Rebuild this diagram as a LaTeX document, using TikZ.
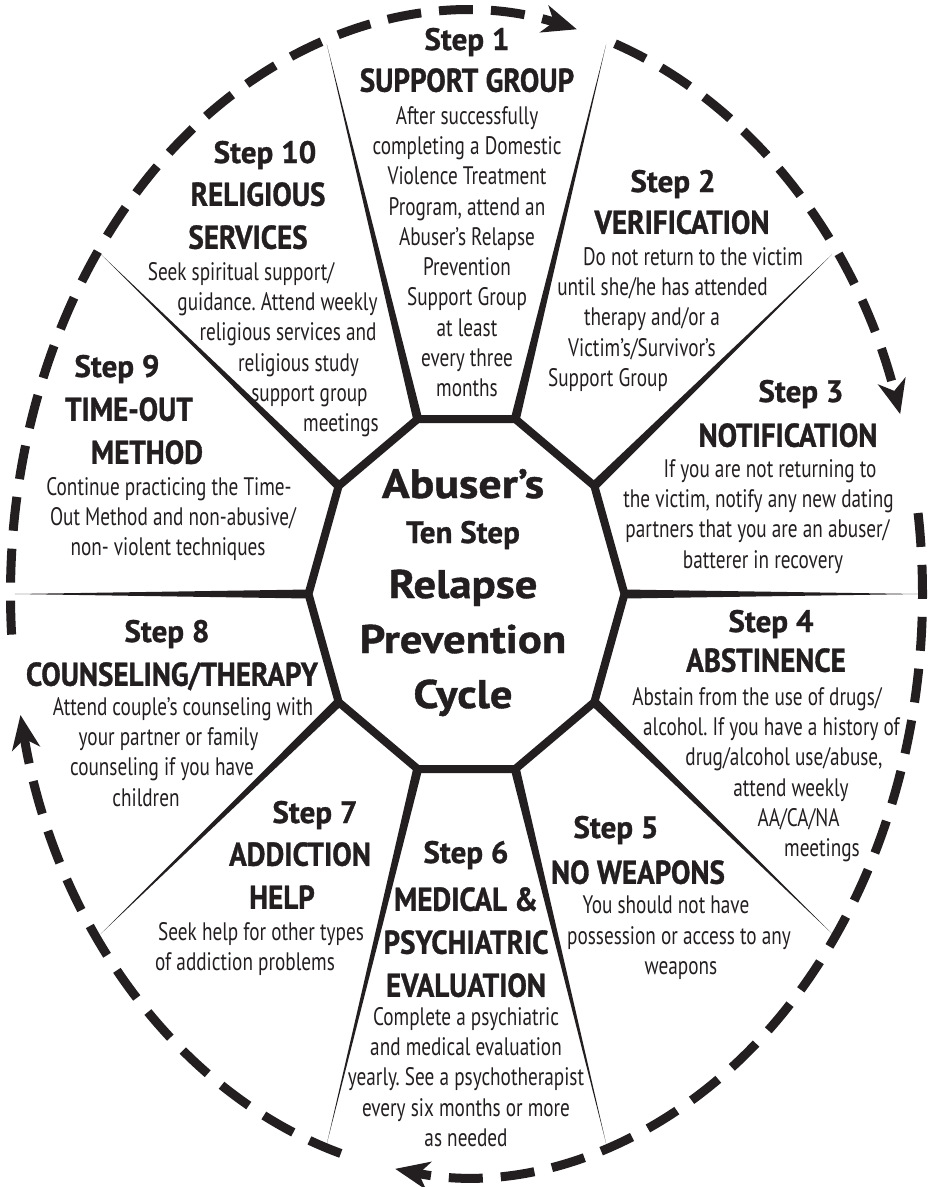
\documentclass[tikz,border=0pt]{standalone}
\usepackage{fontspec}
\setmainfont{PT Sans}
\newfontfamily\narrowfont[FakeStretch=0.76]{PT Sans}
\newfontfamily\stepfont[FakeBold=1]{PT Sans Bold}
\newfontfamily\condfont[FakeStretch=0.88, FakeBold=1]{PT Sans Bold}
\newfontfamily\widefont[FakeStretch=1.12, FakeBold=1]{PT Sans Bold}
\usetikzlibrary{arrows.meta,calc}
\definecolor{ink}{HTML}{231F20}
\newcommand\nudge[2]{\hspace*{#1pt}#2\hspace*{-#1pt}}
\frenchspacing

\begin{document}
\begin{tikzpicture}[
        x=1pt, y=-1pt,                % 像素坐标, y 向下
        >={Stealth[length=34pt,width=28pt,inset=10pt]},
        every node/.style={inner sep=0pt, text=ink},
        steplabel/.style={anchor=base, font=\stepfont\fontsize{31}{36}\selectfont},
        titlelabel/.style={anchor=north, align=center, font=\condfont\fontsize{33}{43}\selectfont},
        bodytext/.style={anchor=north, align=center, font=\narrowfont\fontsize{25.3}{30.3}\selectfont},
        hubbig/.style={anchor=base, font=\widefont\fontsize{40}{44}\selectfont},
        hubsmall/.style={anchor=base, font=\stepfont\fontsize{31}{34}\selectfont},
        hubline/.style={draw=ink, line width=8pt, line join=miter},
        spoke/.style={fill=ink},
        cyclearc/.style={->, draw=ink, line width=9pt, dash pattern=on 34pt off 18pt}
    ]
    \fill[white] (0,0) rectangle (932,1187);
    \useasboundingbox (0,0) rectangle (932,1187);

    % 十边形顶点和辐条端点
    \coordinate (C) at (466.5,594);
    \foreach \i in {0,...,9}{
        \coordinate (v\i) at ($(C)+({36*\i}:158 and 184)$);
        \coordinate (o\i) at ($(C)+({36*\i}:452 and 578)$);
    }

    % 辐条
    \foreach \i in {0,...,9}
        \fill[spoke] ($(v\i)!4.5pt!90:(o\i)$) -- (o\i) -- ($(v\i)!4.5pt!-90:(o\i)$) -- cycle;

    % 中心十边形
    \draw[hubline] (v0) -- (v1) -- (v2) -- (v3) -- (v4) -- (v5) -- (v6) -- (v7) -- (v8) -- (v9) -- cycle;

    % 虚线循环箭头
    \draw[cyclearc] ($(C)+(-71:456 and 582)$) arc[start angle=-71, end angle=-18, x radius=456, y radius=582];
    \draw[cyclearc] ($(C)+(-8:456 and 582)$) arc[start angle=-8, end angle=99, x radius=456, y radius=582];
    \draw[cyclearc] ($(C)+(106:456 and 582)$) arc[start angle=106, end angle=168, x radius=456, y radius=582];
    \draw[cyclearc] ($(C)+(-184:456 and 582)$) arc[start angle=-184, end angle=-76, x radius=456, y radius=582];

    % 中心文字
    \node[hubbig] (h1) at (463,498) {\fontsize{41}{44}\selectfont Abuser’s};
    \node[hubsmall] (h2) at (463,543) {Ten Step};
    \node[hubbig] (h3) at (463,598) {Relapse};
    \node[hubbig] (h4) at (463,653) {Prevention};
    \node[hubbig] (h5) at (463,708) {Cycle};

    % Step 1
    \node[steplabel] (s1) at (467,50) {Step 1};
    \node[titlelabel] (t1) at (467,68) {SUPPORT GROUP};
    \node[bodytext] (b1) at (467,106) {After successfully\\completing a Domestic\\Violence Treatment\\Program, attend an\\Abuser’s Relapse\\Prevention\\Support Group\\at least\\every three\\months};

    % Step 2
    \node[steplabel] (s2) at (673,192) {Step 2};
    \node[titlelabel] (t2) at (682,210) {VERIFICATION};
    \node[bodytext] (b2) at (652,247) {\nudge{41}{Do not return to the victim}\\\nudge{21}{until she/he has attended}\\therapy and/or a\\\nudge{-20}{Victim’s/Survivor’s}\\\nudge{-44}{Support Group}};

    % Step 3
    \node[steplabel] (s3) at (801,402) {Step 3};
    \node[titlelabel] (t3) at (788,423) {NOTIFICATION};
    \node[bodytext] (b3) at (760,459) {\nudge{10}{If you are not returning to}\\\nudge{-3}{the victim, notify any new dating}\\\nudge{-5}{partners that you are an abuser/}\\\nudge{3}{batterer in recovery}};

    % Step 4
    \node[steplabel] (s4) at (771,632) {Step 4};
    \node[titlelabel] (t4) at (766,648) {ABSTINENCE};
    \node[bodytext] (b4) at (790,687) {\nudge{-33}{Abstain from the use of drugs/}\\\nudge{-37}{alcohol. If you have a history of}\\\nudge{-12}{drug/alcohol use/abuse,}\\\nudge{2}{attend weekly}\\\nudge{17}{AA/CA/NA}\\\nudge{32}{meetings}};

    % Step 5
    \node[steplabel] (s5) at (616,838) {Step 5};
    \node[titlelabel] (t5) at (638,860) {NO WEAPONS};
    \node[bodytext] (b5) at (676,896) {\nudge{-10}{You should not have}\\\nudge{6}{possession or access to any}\\\nudge{5}{weapons}};

    % Step 6
    \node[steplabel] (s6) at (466,863) {Step 6};
    \node[titlelabel] (t6) at (466,887) {MEDICAL \&\\PSYCHIATRIC\\EVALUATION};
    \node[bodytext] (b6) at (466,1007) {Complete a psychiatric\\and medical evaluation\\yearly. See a psychotherapist\\every six months or more\\as needed};

    % Step 7
    \node[steplabel] (s7) at (315,823) {Step 7};
    \node[titlelabel] (t7) at (291,842) {\nudge{9}{ADDICTION}\\\nudge{-9}{HELP}};
    \node[bodytext] (b7) at (253,922) {\nudge{8}{Seek help for other types}\\\nudge{-8}{of addiction problems}};

    % Step 8
    \node[steplabel] (s8) at (167,642) {Step 8};
    \node[titlelabel] (t8) at (172,662) {COUNSELING/THERAPY};
    \node[bodytext] (b8) at (165,697) {\nudge{18}{Attend couple’s counseling with}\\\nudge{7}{your partner or family}\\\nudge{-6}{counseling if you have}\\\nudge{-19}{children}};

    % Step 9
    \node[steplabel] (s9) at (117,377) {Step 9};
    \node[titlelabel] (t9) at (138,397) {\nudge{-9}{TIME-OUT}\\\nudge{9}{METHOD}};
    \node[bodytext] (b9) at (171,477) {\nudge{-2}{Continue practicing the Time-}\\\nudge{4}{Out Method and non-abusive/}\\\nudge{-3}{non- violent techniques}};

    % Step 10
    \node[steplabel] (s10) at (265,163) {Step 10};
    \node[titlelabel] (t10) at (253,182) {\nudge{5}{RELIGIOUS}\\\nudge{-5}{SERVICES}};
    \node[bodytext] (b10) at (290,262) {\nudge{-49}{Seek spiritual support/}\\\nudge{-25}{guidance. Attend weekly}\\\nudge{-4}{religious services and}\\\nudge{17}{religious study}\\\nudge{39}{support group}\\\nudge{51}{meetings}};
\end{tikzpicture}
\end{document}
